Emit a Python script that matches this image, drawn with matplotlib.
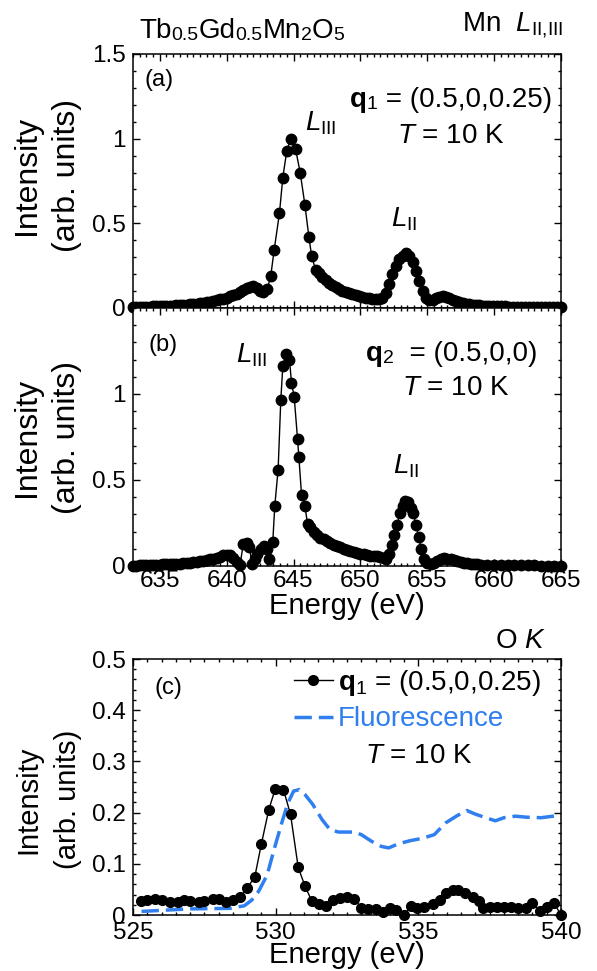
import matplotlib
matplotlib.use('Agg')
import matplotlib.pyplot as plt
from matplotlib.ticker import MultipleLocator, FuncFormatter

plt.rcParams['font.family'] = 'Liberation Sans'
plt.rcParams['mathtext.fontset'] = 'custom'
plt.rcParams['mathtext.rm'] = 'Liberation Sans'
plt.rcParams['mathtext.it'] = 'Liberation Sans:italic'
plt.rcParams['mathtext.bf'] = 'Liberation Sans:bold'

# (a) Mn L edge, q1 = (0.5,0,0.25)
energy_a = [633.0, 633.25, 633.5, 633.75, 634.0, 634.25, 634.5, 634.75,
            635.0, 635.25, 635.5, 635.75, 636.0, 636.25, 636.5, 636.75,
            637.0, 637.25, 637.5, 637.75, 638.0, 638.25, 638.5, 638.75,
            639.0, 639.25, 639.5, 639.75, 640.0, 640.25, 640.5, 640.75,
            641.0, 641.25, 641.5, 641.75, 642.0, 642.25, 642.5, 642.75,
            643.05, 643.3, 643.55, 643.95, 644.2, 644.5, 644.8, 645.15,
            645.5, 645.85, 646.15, 646.35, 646.65, 646.9, 647.15, 647.4,
            647.65, 647.9, 648.15, 648.4, 648.65, 648.9, 649.15, 649.4,
            649.65, 649.9, 650.15, 650.4, 650.65, 650.9, 651.15, 651.4,
            651.65, 651.9, 652.15, 652.4, 652.65, 652.9, 653.15, 653.4,
            653.65, 653.9, 654.15, 654.4, 654.65, 654.9, 655.15, 655.4,
            655.65, 655.9, 656.15, 656.4, 656.65, 656.9, 657.15, 657.4,
            657.65, 657.9, 658.15, 658.4, 658.65, 658.9, 659.15, 659.4,
            659.65, 659.9, 660.2, 660.5, 660.8, 661.1, 661.4, 661.7,
            662.0, 662.3, 662.6, 662.9, 663.2, 663.5, 663.8, 664.1,
            664.4, 664.7, 665.0]
int_a = [.005, .005, .006, .007, .008, .008, .009, .010,
         .010, .011, .012, .013, .014, .015, .016, .018,
         .020, .022, .024, .026, .029, .032, .035, .038,
         .042, .046, .051, .056, .062, .068, .076, .085,
         .095, .106, .117, .126, .130, .118, .100, .095,
         .115, .19, .34, .56, .77, .93, 1.0, .94,
         .80, .61, .42, .31, .225, .205, .185, .165,
         .148, .135, .122, .112, .103, .095, .088, .082,
         .076, .071, .066, .062, .058, .055, .053, .052,
         .06, .09, .14, .20, .25, .29, .31, .325,
         .31, .27, .22, .16, .10, .06, .045, .05,
         .058, .065, .068, .065, .058, .05, .042, .035,
         .03, .025, .022, .019, .017, .015, .013, .012,
         .011, .010, .010, .009, .009, .008, .008, .008,
         .007, .007, .007, .006, .006, .006, .006, .005,
         .005, .005, .005]

# (b) Mn L edge, q2 = (0.5,0,0)
energy_b = [633.0, 633.25, 633.5, 633.75, 634.0, 634.25, 634.5, 634.75,
            635.0, 635.25, 635.5, 635.75, 636.0, 636.25, 636.5, 636.75,
            637.0, 637.25, 637.5, 637.75, 638.0, 638.25, 638.5, 638.75,
            639.0, 639.25, 639.5, 639.75, 640.0, 640.25, 640.5, 640.75,
            641.0, 641.25, 641.5, 641.7, 641.9, 642.1, 642.3, 642.55,
            642.8, 643.05, 643.2, 643.45, 643.6, 643.85, 644.05, 644.2,
            644.45, 644.7, 644.85, 645.05, 645.3, 645.4, 645.6, 645.85,
            646.05, 646.25, 646.5, 646.75, 647.0, 647.25, 647.5, 647.75,
            648.0, 648.25, 648.5, 648.75, 649.0, 649.25, 649.5, 649.75,
            650.0, 650.25, 650.5, 650.75, 651.0, 651.25, 651.5, 651.75,
            651.95, 652.15, 652.35, 652.55, 652.75, 652.95, 653.15, 653.35,
            653.55, 653.75, 653.95, 654.15, 654.35, 654.55, 654.75, 655.0,
            655.25, 655.5, 655.75, 656.0, 656.25, 656.5, 656.75, 657.0,
            657.25, 657.5, 657.75, 658.0, 658.25, 658.5, 658.75, 659.0,
            659.5, 660.0, 660.5, 661.0, 661.5, 662.0, 662.5, 663.0,
            663.5, 664.0, 664.5, 665.0]
int_b = [.000, .002, .003, .004, .005, .005, .006, .007,
         .008, .009, .010, .011, .012, .013, .014, .016,
         .018, .020, .022, .025, .028, .031, .034, .038,
         .042, .047, .055, .062, .065, .062, .048, .025,
         .005, .13, .135, .11, .01, .04, .07, .10,
         .115, .10, .04, .14, .35, .56, .965, 1.16,
         1.23, 1.20, 1.065, .985, .74, .635, .415, .35,
         .245, .225, .20, .18, .165, .155, .143, .133,
         .124, .116, .108, .101, .094, .088, .082, .077,
         .072, .068, .064, .061, .058, .056, .054, .048,
         .04, .07, .12, .18, .24, .31, .35, .38,
         .37, .34, .31, .24, .17, .10, .04, .015,
         .01, .015, .03, .04, .045, .042, .038, .032,
         .027, .022, .018, .015, .012, .010, .009, .008,
         .006, .005, .004, .004, .003, .003, .003, .003,
         .002, .002, .002, .002]

# (c) O K edge, q1 scattering and fluorescence
energy_c = [525.27, 525.5, 525.76, 526.0, 526.3, 526.56, 526.8, 527.0,
            527.3, 527.5, 527.8, 528.0, 528.27, 528.5, 528.76, 529.0,
            529.27, 529.5, 529.76, 529.99, 530.27, 530.52, 530.79, 531.03,
            531.27, 531.53, 531.76, 532.0, 532.25, 532.5, 532.76, 533.0,
            533.24, 533.5, 533.76, 533.99, 534.2, 534.5, 534.73, 534.97,
            535.2, 535.5, 535.76, 535.96, 536.2, 536.4, 536.65, 536.9,
            537.13, 537.27, 537.5, 537.76, 538.0, 538.25, 538.5, 538.76,
            539.0, 539.27, 539.5, 539.76, 540.0]
int_c = [.027, .029, .031, .030, .026, .026, .029, .027,
         .026, .027, .031, .031, .026, .029, .036, .052,
         .075, .139, .206, .247, .245, .197, .093, .056,
         .027, .021, .018, .029, .033, .036, .031, .014,
         .012, .012, .005, .013, .009, .0, .018, .014,
         .016, .021, .029, .042, .049, .049, .042, .036,
         .027, .014, .016, .016, .016, .016, .014, .013,
         .023, .007, .016, .023, .0]

energy_fl = [525.3, 527.0, 528.4, 528.9, 529.16, 529.4, 529.7, 529.96,
             530.23, 530.43, 530.63, 530.83, 531.03, 531.3, 531.63, 531.9,
             532.2, 532.76, 533.0, 533.36, 533.7, 533.96, 534.3, 534.7,
             535.16, 535.56, 535.96, 536.36, 536.7, 537.0, 537.36, 537.7,
             538.0, 538.4, 538.8, 539.3, 540.0]
int_fl = [.007, .012, .013, .018, .029, .046, .078, .131,
          .183, .219, .242, .245, .235, .216, .186, .167,
          .162, .162, .157, .144, .134, .131, .139, .145,
          .150, .157, .18, .194, .204, .197, .19, .184,
          .19, .193, .191, .19, .195]

blue = '#2f7ff0'
W, H = 597, 971


def box(l, t, r, b):
    return [l / W, 1 - b / H, (r - l) / W, (b - t) / H]


def style(ax, xmaj, xmin, ymaj, ymin):
    ax.xaxis.set_major_locator(MultipleLocator(xmaj))
    ax.xaxis.set_minor_locator(MultipleLocator(xmin))
    ax.yaxis.set_major_locator(MultipleLocator(ymaj))
    ax.yaxis.set_minor_locator(MultipleLocator(ymin))
    ax.yaxis.set_major_formatter(FuncFormatter(lambda v, p: f'{v:g}'))
    ax.tick_params(which='both', direction='in', top=True, right=True,
                   width=1, labelsize=17.5)
    ax.tick_params(which='major', length=5)
    ax.tick_params(which='minor', length=2.5)
    ax.tick_params(axis='y', pad=5)
    ax.tick_params(axis='x', pad=3)
    for s in ax.spines.values():
        s.set_linewidth(1.1)


def rich(ax, x, y, pieces, transform):
    # chain text pieces left to right, sharing the bottom line
    s, size, weight = pieces[0]
    t = ax.text(x, y, s, transform=transform, fontsize=size,
                fontweight=weight, ha='left', va='baseline')
    for s, size, weight in pieces[1:]:
        t = ax.annotate(s, xy=(1, 0), xycoords=t, fontsize=size,
                        fontweight=weight, ha='left', va='bottom')
    return t


fig = plt.figure(figsize=(5.97, 9.71), dpi=100)
ax_a = fig.add_axes(box(133, 54, 561, 308))
ax_b = fig.add_axes(box(133, 308, 561, 566))
ax_c = fig.add_axes(box(133, 659, 561, 915))

# panel a
ax_a.plot(energy_a, int_a, '-o', color='k', ms=7.5, lw=1, clip_on=False, zorder=3)
ax_a.set_xlim(633, 665)
ax_a.set_ylim(0, 1.5)
style(ax_a, 5, 0.5, 0.5, 0.1)
ax_a.tick_params(labelbottom=False)
ax_a.set_ylabel('Intensity\n(arb. units)', fontsize=23, linespacing=1.4)
ax_a.yaxis.set_label_coords(-0.12, 0.52)
ax_a.text(0.028, 0.898, '(a)', transform=ax_a.transAxes, fontsize=17, va='center')
rich(ax_a, 0.507, 0.791, [('q', 20, 'bold'), ('1', 14, 'normal'),
                          (' = (0.5,0,0.25)', 20, 'normal')], ax_a.transAxes)
ax_a.text(0.741, 0.65, r'$T$ = 10 K', transform=ax_a.transAxes, fontsize=20,
          ha='center', va='baseline')
ax_a.text(0.402, 0.70, r'$L_{\mathrm{III}}$', transform=ax_a.transAxes,
          fontsize=20, va='baseline')
ax_a.text(0.603, 0.319, r'$L_{\mathrm{II}}$', transform=ax_a.transAxes,
          fontsize=20, va='baseline')
rich(ax_a, 139 / W, 1 - 38 / H,
     [('Tb', 20, 'normal'), ('0.5', 14, 'normal'), ('Gd', 20, 'normal'),
      ('0.5', 14, 'normal'), ('Mn', 20, 'normal'), ('2', 14, 'normal'),
      ('O', 20, 'normal'), ('5', 14, 'normal')], fig.transFigure)
ax_a.text(462 / W, 1 - 31 / H, r'Mn  $L_{\mathrm{II{,}III}}$', transform=fig.transFigure,
          fontsize=20, va='baseline')

# panel b
ax_b.plot(energy_b, int_b, '-o', color='k', ms=7.5, lw=1, clip_on=False, zorder=3)
ax_b.set_xlim(633, 665)
ax_b.set_ylim(0, 1.5)
style(ax_b, 5, 0.5, 0.5, 0.1)
ax_b.set_yticks([0, 0.5, 1])
ax_b.set_ylabel('Intensity\n(arb. units)', fontsize=23, linespacing=1.4)
ax_b.yaxis.set_label_coords(-0.12, 0.5)
ax_b.set_xlabel('Energy (eV)', fontsize=21, labelpad=0)
ax_b.text(0.037, 0.857, '(b)', transform=ax_b.transAxes, fontsize=17, va='center')
rich(ax_b, 0.544, 0.795, [('q', 20, 'bold'), ('2', 14, 'normal'),
                          ('  = (0.5,0,0)', 20, 'normal')], ax_b.transAxes)
ax_b.text(0.755, 0.663, r'$T$ = 10 K', transform=ax_b.transAxes, fontsize=20,
          ha='center', va='baseline')
ax_b.text(0.241, 0.787, r'$L_{\mathrm{III}}$', transform=ax_b.transAxes,
          fontsize=20, va='baseline')
ax_b.text(0.607, 0.36, r'$L_{\mathrm{II}}$', transform=ax_b.transAxes,
          fontsize=20, va='baseline')

# panel c
ax_c.plot(energy_fl, int_fl, '--', color=blue, lw=2.5, dashes=(5, 2),
          label='Fluorescence', zorder=2)
ax_c.plot(energy_c, int_c, '-o', color='k', ms=7, lw=1, clip_on=False,
          zorder=3, label=r'$\mathbf{q}_1$ = (0.5,0,0.25)')
ax_c.set_xlim(525, 540)
ax_c.set_ylim(0, 0.5)
style(ax_c, 5, 0.5, 0.1, 0.02)
ax_c.tick_params(axis='x', pad=5)
ax_c.set_ylabel('Intensity\n(arb. units)', fontsize=21, linespacing=1.5)
ax_c.yaxis.set_label_coords(-0.12, 0.45)
ax_c.set_xlabel('Energy (eV)', fontsize=21, labelpad=-2)
ax_c.text(0.051, 0.887, '(c)', transform=ax_c.transAxes, fontsize=17, va='center')
ax_c.text(0.846, 1.043, r'O $K$', transform=ax_c.transAxes, fontsize=20,
          va='baseline')
ax_c.text(0.667, 0.594, r'$T$ = 10 K', transform=ax_c.transAxes, fontsize=20,
          ha='center', va='baseline')
handles, labels = ax_c.get_legend_handles_labels()
leg = ax_c.legend(handles[::-1], labels[::-1], loc='upper right',
                  bbox_to_anchor=(0.953, 0.965), borderpad=0, borderaxespad=0,
                  frameon=False, fontsize=20, handlelength=1.4,
                  handletextpad=0.2, labelspacing=0.3)
leg.get_texts()[1].set_color(blue)

fig.savefig('out.png', dpi=100)
